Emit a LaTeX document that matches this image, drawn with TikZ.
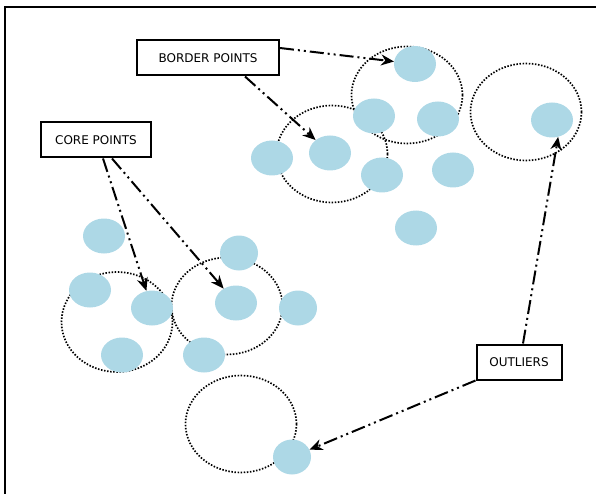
\documentclass[tikz,border=0pt]{standalone}
\usepackage{fontspec}
\setsansfont{DejaVu Sans}
\usetikzlibrary{positioning, shapes.geometric, arrows.meta}
\definecolor{ptblue}{RGB}{173,216,230}

\begin{document}
\begin{tikzpicture}[
        x=1pt, y=-1pt,
        pt/.style={ellipse, fill=ptblue, inner sep=0pt, minimum width=42pt, minimum height=35pt},
        eps/.style={ellipse, draw, line width=1.7pt, dash pattern=on 1.5pt off 1.6pt, minimum width=111pt, minimum height=97pt},
        lbl/.style={draw, line width=2pt, fill=white, minimum width=#1, minimum height=35pt, font=\sffamily\fontsize{12}{14}\selectfont},
        ptr/.style={line width=2pt, dash pattern=on 14pt off 4pt on 2pt off 4pt on 2pt off 4pt, -{Stealth[length=13pt, width=11pt]}}
      ]
      \useasboundingbox (0,0) rectangle (596,494);
      \draw[line width=2.5pt] (5,500) -- (5,7) -- (600,7);

      % eps neighbourhoods
      \node[eps] (c1) at (407,95) {};
      \node[eps] (c2) at (332,154) {};
      \node[eps] (c3) at (526,112) {};
      \node[eps, minimum height=100pt] (c4) at (117,322) {};
      \node[eps] (c5) at (227,306) {};
      \node[eps] (c6) at (241,424) {};

      % points, upper group
      \node[pt, minimum height=36pt] (p1) at (415,64) {};
      \node[pt] (p2) at (374,116) {};
      \node[pt] (p3) at (438,119) {};
      \node[pt] (p4) at (330,153) {};
      \node[pt] (p5) at (272,158) {};
      \node[pt] (p6) at (382,175) {};
      \node[pt] (p7) at (453,170) {};
      \node[pt] (p8) at (416,228) {};
      % points, lower group
      \node[pt] (q1) at (104,236) {};
      \node[pt] (q2) at (90,290) {};
      \node[pt] (q3) at (152,308) {};
      \node[pt] (q4) at (122,355) {};
      \node[pt, minimum width=38pt] (q5) at (239,253) {};
      \node[pt] (q6) at (236,303) {};
      \node[pt, minimum width=38pt] (q7) at (298,308) {};
      \node[pt] (q8) at (204,355) {};
      % outliers
      \node[pt] (o1) at (552,120) {};
      \node[pt, minimum width=38pt] (o2) at (292,457) {};

      % labels
      \node[lbl=142pt] (bp) at (208,58) {BORDER POINTS};
      \node[lbl=110pt] (cp) at (96,140) {CORE POINTS};
      \node[lbl=85pt] (ol) at (519,362) {OUTLIERS};

      \draw[ptr] ([yshift=10pt]bp.east) -- (p1);
      \draw[ptr] ([xshift=37pt]bp.south) -- (p4);
      \draw[ptr] ([xshift=7pt]cp.south) -- (q3);
      \draw[ptr] ([xshift=16pt]cp.south) -- (q6);
      \draw[ptr] ([xshift=4pt]ol.north) -- (o1.-70);
      \draw[ptr] (ol.south west) -- (o2);
      \end{tikzpicture}
\end{document}
